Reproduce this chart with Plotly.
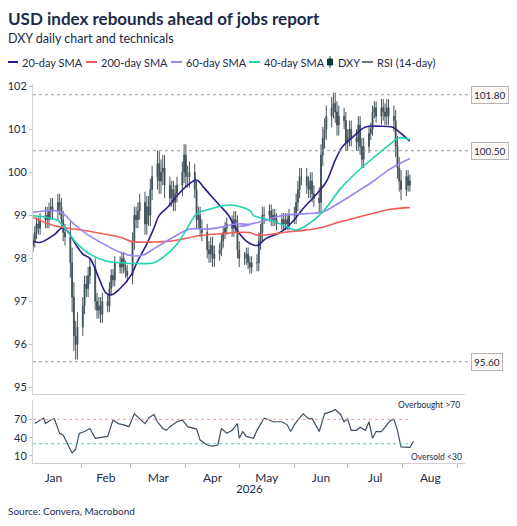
import pandas as pd
import plotly.graph_objects as go

# --- DXY daily closes, business days 5 Jan - 5 Aug 2026 ---
first_open = 98.3
closes = [
    98.4, 98.6, 98.8, 98.7, 98.9,
    99.0, 98.9, 99.1, 99.2, 99.1,
    99.3, 99.2, 98.9, 98.6, 98.5,
    97.9, 97.1, 96.2, 96.0, 96.4,
    96.9, 97.4, 97.3, 97.6, 97.8,
    97.0, 96.8, 96.9, 96.7, 97.0,
    96.9, 97.3, 97.6, 97.5, 97.9,
    97.8, 98.0, 97.8, 97.7, 97.6,
    98.4, 99.0, 98.9, 99.1, 99.3,
    98.8, 99.2, 99.0, 99.6, 99.9,
    100.2, 99.8, 100.0, 100.1, 99.7,
    99.4, 99.6, 99.3, 99.5, 99.7,
    100.0, 100.4, 99.9, 99.9, 100.0,
    99.6, 98.9, 99.0, 98.7, 98.6,
    98.2, 98.1, 98.3, 98.0, 98.1,
    98.2, 98.4, 98.6, 98.7, 98.8,
    98.7, 98.9, 98.8, 98.2, 98.0,
    98.0, 98.1, 97.9, 97.8, 97.9,
    97.9, 98.4, 98.6, 99.0, 99.0,
    99.1, 98.9, 99.0, 98.9, 98.8,
    98.9, 98.8, 98.9, 98.8, 99.0,
    99.0, 99.3, 99.6, 99.9, 99.9,
    99.7, 99.6, 99.8, 99.5, 99.4,
    99.3, 100.4, 100.8, 101.0, 101.3,
    101.5, 101.6, 101.4, 101.1, 101.3,
    101.2, 100.7, 100.8, 101.0, 100.8,
    100.7, 101.1, 100.6, 100.3, 100.6,
    100.9, 101.0, 101.4, 101.5, 101.3,
    101.5, 101.4, 101.3, 101.5, 101.3,
    101.2, 100.6, 100.1, 99.8, 99.6,
    99.9, 99.7, 99.8,
]
# wick length, one per week
weekly_wick = [0.15, 0.2, 0.2, 0.35, 0.2, 0.2, 0.15, 0.15, 0.2, 0.25, 0.3, 0.2,
               0.25, 0.2, 0.2, 0.15, 0.2, 0.15, 0.2, 0.15, 0.15, 0.2, 0.2, 0.25,
               0.25, 0.2, 0.2, 0.15, 0.2, 0.25, 0.15]

# --- moving averages, (day of year, value) ---
sma20_day = [4, 8, 16, 20, 23, 28, 32, 36, 41, 45, 48, 53, 59, 63, 68, 72, 75, 80, 86,
             91, 96, 100, 104, 109, 114, 118, 124, 130, 135, 143, 150, 156, 163, 169,
             174, 178, 184, 191, 199, 206, 209, 216]
sma20_val = [98.4, 98.37, 98.55, 98.7, 98.65, 98.33, 98.1, 98.0, 97.55, 97.2, 97.15,
             97.3, 97.6, 97.95, 98.33, 98.7, 99.0, 99.2, 99.5, 99.7, 99.82, 99.65,
             99.46, 99.23, 99.0, 98.7, 98.4, 98.3, 98.46, 98.6, 98.85, 99.16, 99.47,
             99.78, 100.28, 100.59, 100.82, 101.05, 101.07, 101.05, 100.97, 100.72]
sma60_day = [4, 16, 20, 27, 34, 44, 53, 60, 66, 73, 83, 92, 102, 109, 118, 126,
             120, 132, 145, 158, 167, 177, 186, 195, 205, 216]
sma60_val = [99.07, 99.11, 99.07, 98.8, 98.57, 98.33, 98.14, 98.06, 98.08, 98.25,
             98.49, 98.68, 98.68, 98.72, 98.8, 98.78,
             98.74, 98.85, 99.0, 99.04, 99.08, 99.31, 99.54, 99.78, 100.08, 100.32]
sma40_day = [4, 12, 18, 23, 29, 36, 45, 53, 62, 72, 77, 85, 91, 96, 104, 115, 126,
             128, 137, 145, 152, 158, 167, 177, 186, 195, 205, 210, 216]
sma40_val = [98.99, 98.95, 98.88, 98.64, 98.33, 98.1, 97.94, 97.9, 97.88, 97.9, 98.02,
             98.33, 98.72, 99.03, 99.15, 99.24, 99.11,
             99.0, 98.89, 98.77, 98.66, 98.77, 99.08, 99.62, 100.0, 100.32, 100.66,
             100.8, 100.76]
sma200_day = [4, 16, 34, 53, 60, 72, 83, 98, 109, 126, 130, 148, 163, 177, 191, 205, 216]
sma200_val = [98.95, 98.76, 98.64, 98.49, 98.39, 98.38, 98.41, 98.53, 98.57, 98.6,
              98.54, 98.62, 98.69, 98.85, 99.0, 99.14, 99.18]

# --- RSI (14-day) ---
rsi_day = [5, 10, 11, 14, 16, 19, 21, 24, 26, 28, 30, 33, 36, 39, 44, 46, 49, 52, 55,
           58, 61, 63, 65, 67, 69, 72, 74, 77, 79, 81, 85, 88, 91, 94, 96, 98, 102,
           105, 108, 110, 113, 116, 119, 120, 122, 124, 128, 130, 134, 136, 139, 144,
           147, 149, 151, 153, 156, 159, 161, 165, 168, 172, 174, 177, 179, 181, 183,
           186, 188, 191, 193, 195, 197, 200, 203, 205, 207, 209, 211, 215, 216, 218]
rsi_val = [63, 72, 63, 69, 71, 47, 44, 25, 15, 21, 47, 50, 55, 39, 42, 42, 69, 63, 61,
           58, 79, 74, 69, 63, 72, 78, 66, 55, 52, 58, 66, 69, 58, 55, 54, 36, 28,
           26, 28, 55, 47, 52, 63, 39, 50, 42, 39, 52, 72, 70, 66, 66, 61, 50, 61, 69,
           79, 71, 71, 50, 79, 83, 86, 78, 66, 71, 52, 52, 57, 52, 66, 39, 50, 50, 61,
           68, 70, 52, 25, 25, 24, 34]

levels = [101.8, 100.5, 95.6]
level_labels = ["101.80", "100.50", "95.60"]

legend_names = ["20-day SMA", "200-day SMA", "60-day SMA", "40-day SMA", "DXY", "RSI (14-day)"]
legend_colors = ["#2d1c8c", "#f25c54", "#9a86f4", "#1fd3b0", "#0c3a40", "#6a7682"]

FONT = "Lato"
INK = "#1c2b4a"
OFF = 8  # the page body adds an 8px margin; all positions below are in window pixels
W, H = 517 - OFF, 526 - OFF
ML, MT = 33 - OFF, 84 - OFF
MR, MB = 517 - 465, 526 - 463
PW, PH = W - ML - MR, H - MT - MB
day0 = pd.Timestamp("2026-01-01")


def to_dates(days):
    return day0 + pd.to_timedelta(days, unit="D")


def px(x):
    return (x - OFF - ML) / PW


def py(y):
    return (H - MB - (y - OFF)) / PH


dates = pd.bdate_range("2026-01-05", periods=len(closes))
opens = [first_open] + closes[:-1]
highs = [max(o, c) + weekly_wick[i // 5] for i, (o, c) in enumerate(zip(opens, closes))]
lows = [min(o, c) - weekly_wick[i // 5] for i, (o, c) in enumerate(zip(opens, closes))]

fig = go.Figure()


def sma(days, vals, name, color):
    fig.add_trace(go.Scatter(x=to_dates(days), y=vals, mode="lines", name=name,
                             line=dict(color=color, width=1.6, shape="spline"),
                             xaxis="x", yaxis="y"))


sma(sma20_day, sma20_val, legend_names[0], legend_colors[0])
sma(sma200_day, sma200_val, legend_names[1], legend_colors[1])
sma(sma60_day, sma60_val, legend_names[2], legend_colors[2])
sma(sma40_day, sma40_val, legend_names[3], legend_colors[3])

fig.add_trace(go.Candlestick(
    x=dates, open=opens, high=highs, low=lows, close=closes, name="DXY",
    increasing=dict(line=dict(color="#46545c", width=1), fillcolor="#0c4a50"),
    decreasing=dict(line=dict(color="#46545c", width=1), fillcolor="#102536"),
    xaxis="x", yaxis="y",
))
fig.add_trace(go.Scatter(x=to_dates(rsi_day), y=rsi_val, mode="lines",
                         name="RSI (14-day)", line=dict(color="#3c4f63", width=1.2),
                         xaxis="x2", yaxis="y2"))

end = dates[-1]
fig.add_trace(go.Scatter(x=[dates[0], end], y=[70, 70], mode="lines",
                         line=dict(color="#f59a94", width=1, dash="dot"),
                         xaxis="x2", yaxis="y2"))
fig.add_trace(go.Scatter(x=[dates[0], end], y=[30, 30], mode="lines",
                         line=dict(color="#3fd6c0", width=1, dash="dot"),
                         xaxis="x2", yaxis="y2"))

for lv, lab in zip(levels, level_labels):
    fig.add_shape(type="line", xref="paper", yref="y", x0=0, x1=px(470), y0=lv, y1=lv,
                  line=dict(color="#9a9a9a", width=1, dash="dot"))
    fig.add_annotation(xref="paper", yref="y", x=px(471), y=lv, text=lab,
                       xanchor="left", showarrow=False,
                       font=dict(family=FONT, size=10, color=INK),
                       bordercolor="#b5b5b5", borderwidth=1, borderpad=2,
                       bgcolor="#fdf8f4")

# legend drawn by hand so it stays on one row
legend_x = [7, 86, 171, 249, 327, 362]
leg_y = 62
for name, color, lx in zip(legend_names, legend_colors, legend_x):
    if name == "DXY":
        fig.add_shape(type="line", xref="paper", yref="paper", x0=px(lx + 3), x1=px(lx + 3),
                      y0=py(leg_y - 6), y1=py(leg_y + 6), line=dict(color=color, width=1))
        fig.add_shape(type="rect", xref="paper", yref="paper", x0=px(lx + 0.5), x1=px(lx + 5.5),
                      y0=py(leg_y - 3), y1=py(leg_y + 3), fillcolor=color,
                      line=dict(color=color, width=1))
        tx = lx + 9
    else:
        fig.add_shape(type="line", xref="paper", yref="paper", x0=px(lx), x1=px(lx + 11),
                      y0=py(leg_y), y1=py(leg_y), line=dict(color=color, width=2))
        tx = lx + 13
    fig.add_annotation(xref="paper", yref="paper", x=px(tx), y=py(leg_y), text=name,
                       xanchor="left", yanchor="middle", showarrow=False,
                       font=dict(family=FONT, size=11, color=INK))

annots = [
    dict(text="<b>USD index rebounds ahead of jobs report</b>", x=6, y=18, size=17),
    dict(text="DXY daily chart and technicals", x=6, y=38, size=12.5),
    dict(text="Source: Convera, Macrobond", x=6, y=511, size=10),
]
for a in annots:
    fig.add_annotation(xref="paper", yref="paper", x=px(a["x"]), y=py(a["y"]), text=a["text"],
                       xanchor="left", yanchor="middle", showarrow=False,
                       font=dict(family=FONT, size=a["size"], color=INK))
fig.add_annotation(xref="paper", yref="paper", x=px(250), y=py(497), text="2026",
                   showarrow=False, font=dict(family=FONT, size=11.5, color=INK))
fig.add_annotation(xref="paper", yref="y2", x=px(462), y=93, text="Overbought >70",
                   xanchor="right", showarrow=False,
                   font=dict(family=FONT, size=8.5, color=INK))
fig.add_annotation(xref="paper", yref="y2", x=px(464), y=8, text="Oversold <30",
                   xanchor="right", showarrow=False,
                   font=dict(family=FONT, size=8.5, color=INK))

xrange = ["2026-01-05", "2026-09-05"]
fig.update_layout(
    width=W, height=H,
    margin=dict(l=ML, r=MR, t=MT, b=MB, autoexpand=False),
    paper_bgcolor="white", plot_bgcolor="white",
    font=dict(family=FONT, size=11, color=INK),
    showlegend=False,
    xaxis=dict(domain=[0, 1], range=xrange, matches="x2", showticklabels=False,
               rangeslider=dict(visible=False), showgrid=False, anchor="y",
               showline=True, linecolor="#cfcfcf", linewidth=1, mirror=False),
    yaxis=dict(domain=[0.182, 1], range=[94.85, 102.05], dtick=1, showgrid=False,
               ticks="outside", ticklen=3, tickcolor="#bbbbbb", showline=True,
               linecolor="#d4d4d4", zeroline=False),
    xaxis2=dict(domain=[0, 1], range=xrange, anchor="y2", dtick="M1",
                tickformat="%b", ticklabelmode="period", ticks="outside", ticklen=4,
                tickcolor="#bbbbbb", showgrid=False, showline=True,
                linecolor="#cfcfcf", tickfont=dict(size=12)),
    yaxis2=dict(domain=[0, 0.166], range=[-1.5, 101.5], tickvals=[10, 40, 70],
                showgrid=False, ticks="outside", ticklen=3, tickcolor="#bbbbbb",
                showline=True, linecolor="#d4d4d4", zeroline=False),
)

fig.write_html("out.html")
